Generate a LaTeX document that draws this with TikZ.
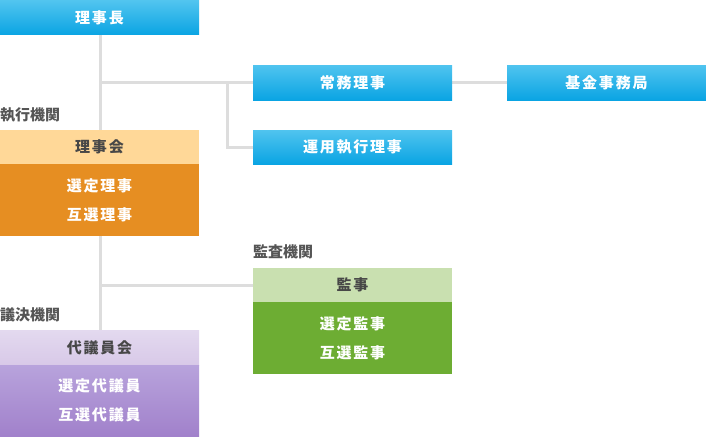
\documentclass[tikz,border=0pt]{standalone}
\usepackage{fontspec}
\newfontfamily\jp[LetterSpace=12]{Noto Sans CJK JP}
\newfontfamily\jplab{Noto Sans CJK JP}
\usetikzlibrary{backgrounds}
\definecolor{bluetop}{HTML}{50C4EF}
\definecolor{bluebot}{HTML}{0AA4E3}
\definecolor{orlight}{HTML}{FFD898}
\definecolor{ordark}{HTML}{E68E22}
\definecolor{grlight}{HTML}{C9E0B0}
\definecolor{grdark}{HTML}{6DAD33}
\definecolor{pulighttop}{HTML}{E3D9EF}
\definecolor{pulightbot}{HTML}{D8C9E8}
\definecolor{pudarktop}{HTML}{B8A3DC}
\definecolor{pudarkbot}{HTML}{A181CB}
\definecolor{linegray}{HTML}{DDDDDD}
\definecolor{txtdark}{HTML}{474747}
\definecolor{labgray}{HTML}{555555}
\tikzset{
  box/.style={rectangle, inner sep=0pt, minimum width=199pt, minimum height=35pt,
    font={\jp\bfseries\fontsize{15}{29}\selectfont}, align=center},
  bluebox/.style={box, top color=bluetop, bottom color=bluebot, text=white},
  headbox/.style={box, text=txtdark},
  bodybox/.style={box, minimum height=72pt, text=white},
  seclabel/.style={anchor=west, inner sep=0pt, text=labgray, font={\jplab\bfseries\fontsize{15}{17}\selectfont}},
  conn/.style={draw=linegray, line width=3pt}
}
\begin{document}
\begin{tikzpicture}[x=1pt,y=-1pt]
\useasboundingbox (0,0) rectangle (706,436);
\node[bluebox, minimum height=34pt] (chair) at (99.5,18) {理事長};
\node[bluebox] (jomu) at (352.5,82.5) {常務理事};
\node[bluebox] (kikin) at (606.5,82.5) {基金事務局};
\node[bluebox, minimum height=34pt] (unyo) at (352.5,147) {運用執行理事};
\node[headbox, fill=orlight, minimum height=34pt] (rh) at (99.5,147) {理事会};
\node[bodybox, fill=ordark] (rb) at (99.5,200) {選定理事\\互選理事};
\node[headbox, fill=grlight, minimum height=34pt] (kh) at (352.5,285) {監事};
\node[bodybox, fill=grdark] (kb) at (352.5,338) {選定監事\\互選監事};
\node[headbox, top color=pulighttop, bottom color=pulightbot] (dh) at (99.5,347.5) {代議員会};
\node[bodybox, minimum height=71pt, top color=pudarktop, bottom color=pudarkbot] (db) at (99.5,400.5) {選定代議員\\互選代議員};
\node[seclabel] (l1) at (0,115) {執行機関};
\node[seclabel] (l2) at (0,315) {議決機関};
\node[seclabel] (l3) at (253,252) {監査機関};
\coordinate (j1) at (100,82.5);
\coordinate (b1) at (227,82.5);
\coordinate (k1) at (100,285);
\begin{pgfonlayer}{background}
\draw[conn] ([xshift=0.5pt]chair.south) -- ([xshift=0.5pt]dh.north);
\draw[conn] (j1) -- (jomu.west);
\draw[conn] (b1) |- (unyo.west);
\draw[conn] (jomu.east) -- (kikin.west);
\draw[conn] (k1) -- (kh.west);
\end{pgfonlayer}
\end{tikzpicture}
\end{document}
